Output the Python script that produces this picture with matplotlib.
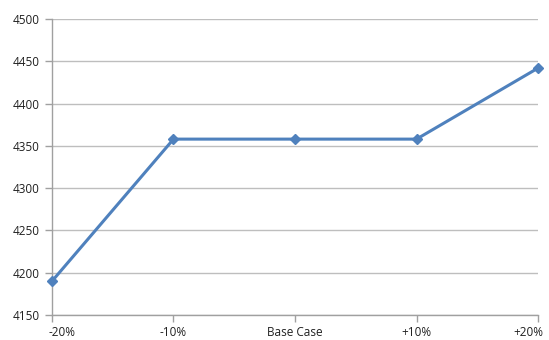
import numpy as np
import matplotlib.pyplot as plt
from matplotlib.transforms import ScaledTranslation

# Sensitivity of the result to the input change
scenarios = ["-20%", "-10%", "Base Case", "+10%", "+20%"]
values = [4190, 4358, 4358, 4358, 4442]
y_ticks = [4150, 4200, 4250, 4300, 4350, 4400, 4450, 4500]

plt.rcParams["font.family"] = ["Open Sans", "DejaVu Sans"]

fig = plt.figure(figsize=(5.49, 3.40), dpi=100)
ax = fig.add_axes([0.0947, 0.0735, 0.8853, 0.8705])

x = np.arange(len(scenarios))
ax.plot(x, values, color="#4F81BD", linewidth=2.2, marker="D",
        markersize=5, zorder=3, clip_on=False)

ax.set_xlim(0, len(scenarios) - 1)
ax.set_ylim(y_ticks[0], y_ticks[-1])
ax.set_yticks(y_ticks)
ax.set_xticks(x)
ax.set_xticklabels(scenarios)

ax.grid(axis="y", color="#BEBEBE", linewidth=1.0)
ax.set_axisbelow(True)
for side in ("top", "right"):
    ax.spines[side].set_visible(False)
for side in ("left", "bottom"):
    ax.spines[side].set_color("#A0A0A0")
    ax.spines[side].set_linewidth(1.0)

ax.tick_params(axis="both", colors="#A0A0A0", labelcolor="#202020",
               labelsize=8.5, length=5, width=1.0)
ax.tick_params(axis="x", pad=3)
ax.tick_params(axis="y", pad=4)

# keep the end labels inside the plot width
labels = ax.get_xticklabels()
labels[0].set_transform(labels[0].get_transform()
                        + ScaledTranslation(0.10, 0, fig.dpi_scale_trans))
labels[-1].set_transform(labels[-1].get_transform()
                         + ScaledTranslation(-0.10, 0, fig.dpi_scale_trans))

fig.savefig("out.png", dpi=100)
